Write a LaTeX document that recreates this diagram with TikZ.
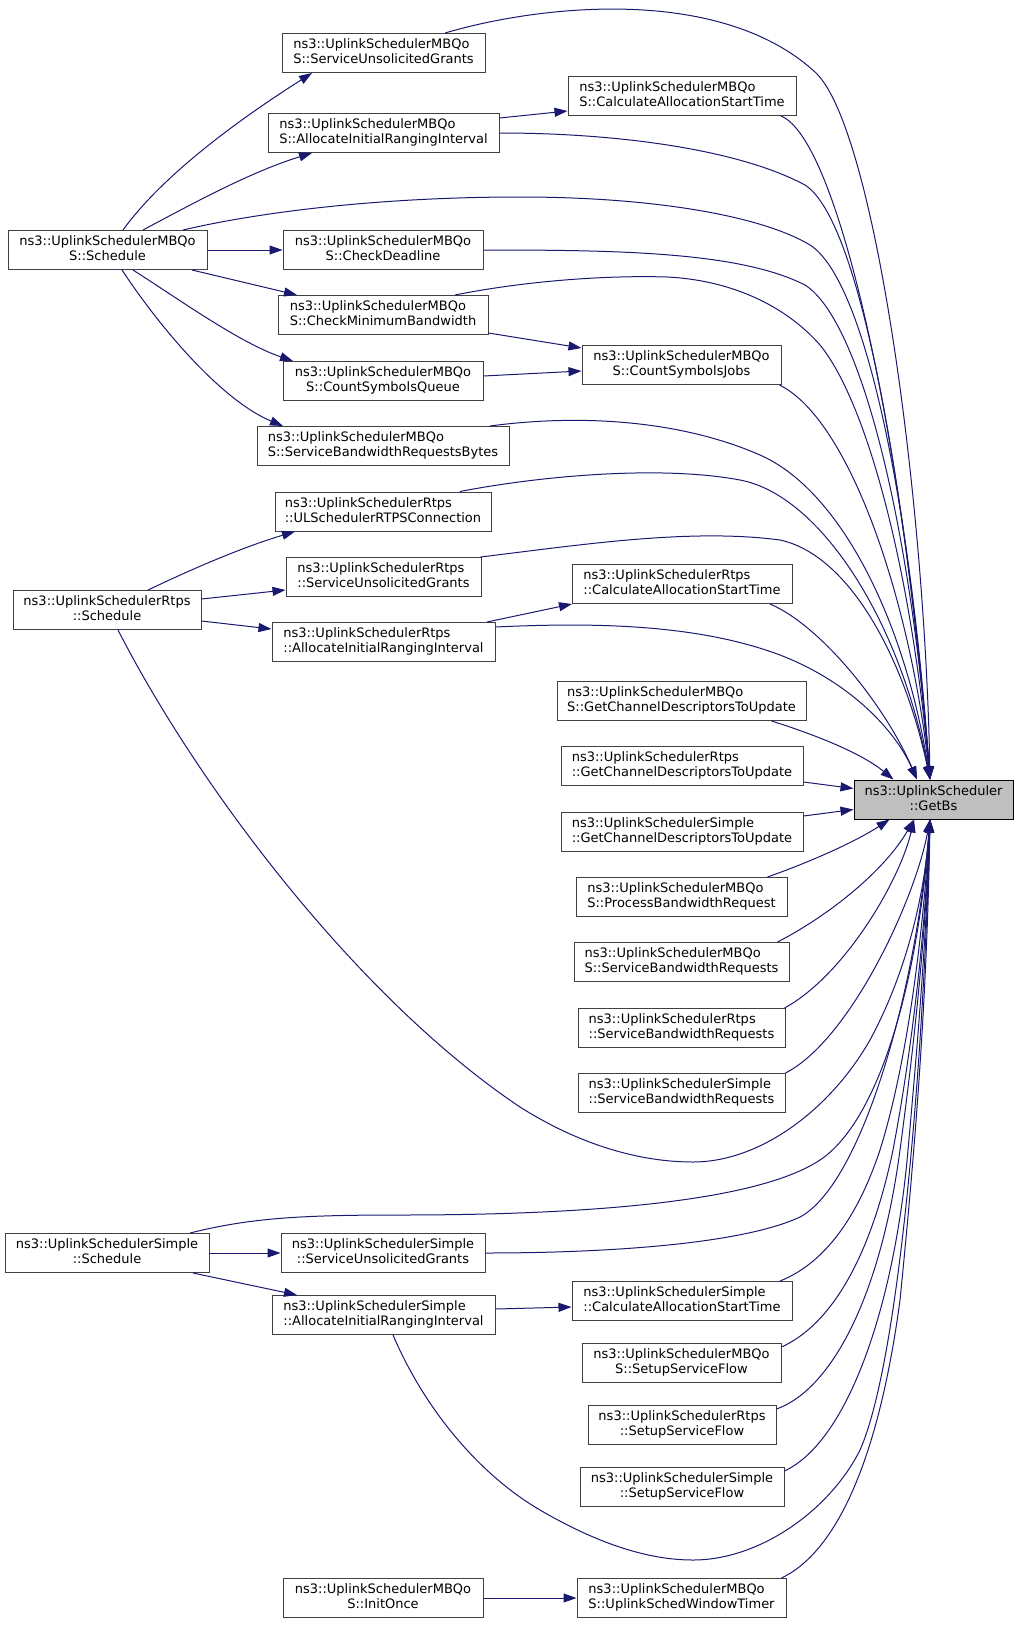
\documentclass[tikz,border=0pt]{standalone}
\usepackage{fontspec}
\setmainfont{DejaVu Sans}
\usetikzlibrary{arrows.meta}
\definecolor{edgeblue}{HTML}{191970}
\definecolor{boxgrey}{HTML}{404040}
\definecolor{rootgrey}{HTML}{BFBFBF}
% two-line doxygen label: first line left, second line centred
\newcommand{\fnlabel}[2]{\begin{tabular}{@{}l@{}}#1\\\multicolumn{1}{@{}c@{}}{#2}\end{tabular}}
\begin{document}
\begin{tikzpicture}[x=1pt,y=-1pt,
  fn/.style={draw=boxgrey,fill=white,line width=1pt,minimum height=39pt,inner sep=0pt,
    font=\fontsize{13}{15}\selectfont},
  root/.style={fn,draw=black,fill=rootgrey},
  call/.style={draw=edgeblue,line width=1pt,-{Triangle[length=13pt,width=9pt]}}]
\useasboundingbox (0,0) rectangle (1019,1651);
% callers, MBQoS
\node[fn,minimum width=203pt] (SUGm) at (383.5,53) {\fnlabel{ns3::UplinkSchedulerMBQo}{S::ServiceUnsolicitedGrants}};
\node[fn,minimum width=231pt] (AIRIm) at (383.5,133) {\fnlabel{ns3::UplinkSchedulerMBQo}{S::AllocateInitialRangingInterval}};
\node[fn,minimum width=228pt] (CASTm) at (682,96) {\fnlabel{ns3::UplinkSchedulerMBQo}{S::CalculateAllocationStartTime}};
\node[fn,minimum width=199pt] (SchedM) at (107.5,250) {\fnlabel{ns3::UplinkSchedulerMBQo}{S::Schedule}};
\node[fn,minimum width=200pt] (CD) at (383,250) {\fnlabel{ns3::UplinkSchedulerMBQo}{S::CheckDeadline}};
\node[fn,minimum width=210pt] (CMB) at (383,315) {\fnlabel{ns3::UplinkSchedulerMBQo}{S::CheckMinimumBandwidth}};
\node[fn,minimum width=200pt] (CSQ) at (383,381) {\fnlabel{ns3::UplinkSchedulerMBQo}{S::CountSymbolsQueue}};
\node[fn,minimum width=199pt] (CSJ) at (681.5,365) {\fnlabel{ns3::UplinkSchedulerMBQo}{S::CountSymbolsJobs}};
\node[fn,minimum width=252pt] (SBRB) at (383,446) {\fnlabel{ns3::UplinkSchedulerMBQo}{S::ServiceBandwidthRequestsBytes}};
% callers, Rtps
\node[fn,minimum width=216pt] (ULS) at (383,511.5) {\fnlabel{ns3::UplinkSchedulerRtps}{::ULSchedulerRTPSConnection}};
\node[fn,minimum width=195pt] (SUGr) at (383.5,577) {\fnlabel{ns3::UplinkSchedulerRtps}{::ServiceUnsolicitedGrants}};
\node[fn,minimum width=188pt] (SchedR) at (107,610) {\fnlabel{ns3::UplinkSchedulerRtps}{::Schedule}};
\node[fn,minimum width=223pt] (AIRIr) at (383.5,642) {\fnlabel{ns3::UplinkSchedulerRtps}{::AllocateInitialRangingInterval}};
\node[fn,minimum width=220pt] (CASTr) at (682,584) {\fnlabel{ns3::UplinkSchedulerRtps}{::CalculateAllocationStartTime}};
% direct callers
\node[fn,minimum width=249pt] (GCDm) at (681.5,701) {\fnlabel{ns3::UplinkSchedulerMBQo}{S::GetChannelDescriptorsToUpdate}};
\node[fn,minimum width=242pt] (GCDr) at (682,766) {\fnlabel{ns3::UplinkSchedulerRtps}{::GetChannelDescriptorsToUpdate}};
\node[root,minimum width=159pt] (GetBs) at (933.5,799.5) {\fnlabel{ns3::UplinkScheduler}{::GetBs}};
\node[fn,minimum width=242pt] (GCDs) at (682,832) {\fnlabel{ns3::UplinkSchedulerSimple}{::GetChannelDescriptorsToUpdate}};
\node[fn,minimum width=211pt] (PBR) at (681.5,897) {\fnlabel{ns3::UplinkSchedulerMBQo}{S::ProcessBandwidthRequest}};
\node[fn,minimum width=215pt] (SBRm) at (681.5,962) {\fnlabel{ns3::UplinkSchedulerMBQo}{S::ServiceBandwidthRequests}};
\node[fn,minimum width=207pt] (SBRr) at (681.5,1028) {\fnlabel{ns3::UplinkSchedulerRtps}{::ServiceBandwidthRequests}};
\node[fn,minimum width=207pt] (SBRs) at (681.5,1093) {\fnlabel{ns3::UplinkSchedulerSimple}{::ServiceBandwidthRequests}};
% callers, Simple
\node[fn,minimum width=204pt] (SchedS) at (107,1253) {\fnlabel{ns3::UplinkSchedulerSimple}{::Schedule}};
\node[fn,minimum width=204pt] (SUGs) at (383,1253) {\fnlabel{ns3::UplinkSchedulerSimple}{::ServiceUnsolicitedGrants}};
\node[fn,minimum width=223pt] (AIRIs) at (383.5,1315) {\fnlabel{ns3::UplinkSchedulerSimple}{::AllocateInitialRangingInterval}};
\node[fn,minimum width=220pt] (CASTs) at (682,1301) {\fnlabel{ns3::UplinkSchedulerSimple}{::CalculateAllocationStartTime}};
\node[fn,minimum width=199pt] (SSFm) at (681.5,1363) {\fnlabel{ns3::UplinkSchedulerMBQo}{S::SetupServiceFlow}};
\node[fn,minimum width=188pt] (SSFr) at (682,1425) {\fnlabel{ns3::UplinkSchedulerRtps}{::SetupServiceFlow}};
\node[fn,minimum width=204pt] (SSFs) at (682,1487) {\fnlabel{ns3::UplinkSchedulerSimple}{::SetupServiceFlow}};
\node[fn,minimum width=200pt] (InitOnce) at (383,1598) {\fnlabel{ns3::UplinkSchedulerMBQo}{S::InitOnce}};
\node[fn,minimum width=209pt] (Timer) at (681.5,1598) {\fnlabel{ns3::UplinkSchedulerMBQo}{S::UplinkSchedWindowTimer}};
% MBQoS schedule fan-out
\draw[call] ([xshift=15.5pt]SchedM.north) .. controls (170,165) and (265,103) .. ([xshift=-71.5pt]SUGm.south);
\draw[call] ([xshift=35.5pt]SchedM.north) .. controls (190,205) and (250,172) .. ([xshift=-71.5pt]AIRIm.south);
\draw[call] (SchedM.east) -- (CD.west);
\draw[call] ([xshift=84.5pt]SchedM.south) -- ([xshift=-86pt]CMB.north);
\draw[call] ([xshift=25.5pt]SchedM.south) .. controls (180,300) and (240,343) .. ([xshift=-90pt]CSQ.north);
\draw[call] ([xshift=14.5pt]SchedM.south) .. controls (165,335) and (225,402) .. ([xshift=-100pt]SBRB.north);
\draw[call] ([yshift=15pt]AIRIm.east) -- ([yshift=-15pt]CASTm.west);
\draw[call] ([yshift=-18pt]CMB.east) -- ([yshift=17pt]CSJ.west);
\draw[call] ([yshift=5pt]CSQ.east) -- ([yshift=-6pt]CSJ.west);
% Rtps schedule fan-out
\draw[call] ([xshift=41pt]SchedR.north) .. controls (190,570) and (240,548) .. ([xshift=-88pt]ULS.south);
\draw[call] ([yshift=11pt]SchedR.east) -- ([yshift=-13pt]SUGr.west);
\draw[call] ([yshift=-11pt]SchedR.east) -- ([yshift=13pt]AIRIr.west);
\draw[call] ([xshift=103.5pt]AIRIr.north) -- ([xshift=-110pt]CASTr.south);
% Simple schedule fan-out
\draw[call] (SchedS.east) -- (SUGs.west);
\draw[call] ([xshift=86pt]SchedS.south) -- ([xshift=-86.5pt]AIRIs.north);
\draw[call] ([yshift=6pt]AIRIs.east) -- ([yshift=-6pt]CASTs.west);
\draw[call] (InitOnce.east) -- (Timer.west);
% into GetBs from above
\draw[call] ([xshift=61.5pt]SUGm.north) .. controls (540,5) and (720,-15) .. (815,72) .. controls (875,127) and (925,500) .. ([xshift=-3.5pt]GetBs.north);
\draw[call] ([xshift=99pt]CASTm.south) .. controls (840,140) and (905,450) .. ([xshift=-3.5pt]GetBs.north);
\draw[call] (AIRIm.east) .. controls (620,133) and (740,150) .. (805,185) .. controls (860,220) and (905,480) .. ([xshift=-3.5pt]GetBs.north);
\draw[call] ([xshift=75.5pt]SchedM.north) .. controls (260,212) and (380,197) .. (520,197) .. controls (650,197) and (760,215) .. (810,245) .. controls (865,280) and (910,500) .. ([xshift=-3.5pt]GetBs.north);
\draw[call] (CD.east) .. controls (620,250) and (740,252) .. (805,285) .. controls (860,320) and (910,520) .. ([xshift=-3.5pt]GetBs.north);
\draw[call] ([xshift=72pt]CMB.north) .. controls (520,282) and (600,275) .. (667,277) .. controls (730,280) and (785,305) .. (820,345) .. controls (865,400) and (910,560) .. ([xshift=-3.5pt]GetBs.north);
\draw[call] ([xshift=98pt]CSJ.south) .. controls (850,420) and (910,600) .. ([xshift=-3.5pt]GetBs.north);
\draw[call] ([xshift=107pt]SBRB.north) .. controls (580,414) and (680,420) .. (760,455) .. controls (840,490) and (905,620) .. ([xshift=-3.5pt]GetBs.north);
\draw[call] ([xshift=77pt]ULS.north) .. controls (540,476) and (660,465) .. (740,480) .. controls (820,495) and (900,620) .. ([xshift=-3.5pt]GetBs.north);
\draw[call] ([xshift=97pt]SUGr.north) .. controls (580,545) and (690,528) .. (780,540) .. controls (850,555) and (905,660) .. ([xshift=-3.5pt]GetBs.north);
\draw[call] ([yshift=15pt]AIRIr.east) .. controls (600,622) and (700,625) .. (780,655) .. controls (850,682) and (895,730) .. ([xshift=-16.5pt]GetBs.north);
\draw[call] ([xshift=88pt]CASTr.south) .. controls (820,625) and (885,705) .. ([xshift=-16.5pt]GetBs.north);
\draw[call] ([xshift=90pt]GCDm.south) .. controls (810,733) and (860,752) .. ([xshift=-40pt]GetBs.north);
% into GetBs from the left
\draw[call] ([yshift=-16pt]GCDr.east) -- ([yshift=11pt]GetBs.west);
\draw[call] ([yshift=16pt]GCDs.east) -- ([yshift=-10pt]GetBs.west);
% into GetBs from below
\draw[call] ([xshift=86pt]PBR.north) .. controls (810,862) and (855,842) .. ([xshift=-44pt]GetBs.south);
\draw[call] ([xshift=96pt]SBRm.north) .. controls (830,915) and (885,870) .. ([xshift=-19.5pt]GetBs.south);
\draw[call] ([xshift=103pt]SBRr.north) .. controls (845,975) and (900,880) .. ([xshift=-19.5pt]GetBs.south);
\draw[call] ([xshift=104pt]SBRs.north) .. controls (850,1040) and (915,900) .. ([xshift=-3.5pt]GetBs.south);
\draw[call] ([xshift=11pt]SchedR.south) .. controls (200,790) and (360,1000) .. (520,1107) .. controls (580,1145) and (640,1162) .. (693,1162) .. controls (760,1162) and (830,1110) .. (870,1040) .. controls (905,975) and (924,900) .. ([xshift=-3.5pt]GetBs.south);
\draw[call] ([xshift=83pt]SchedS.north) .. controls (250,1218) and (300,1215) .. (400,1215) .. controls (600,1215) and (760,1200) .. (820,1160) .. controls (880,1120) and (918,980) .. ([xshift=-3.5pt]GetBs.south);
\draw[call] (SUGs.east) .. controls (600,1253) and (740,1245) .. (800,1217) .. controls (860,1185) and (915,1000) .. ([xshift=-3.5pt]GetBs.south);
\draw[call] ([xshift=98pt]CASTs.north) .. controls (820,1265) and (855,1225) .. (880,1150) .. controls (905,1070) and (922,950) .. ([xshift=-3.5pt]GetBs.south);
\draw[call] ([yshift=16pt]SSFm.east) .. controls (830,1325) and (870,1260) .. (893,1150) .. controls (910,1060) and (924,950) .. ([xshift=-3.5pt]GetBs.south);
\draw[call] ([yshift=16pt]SSFr.east) .. controls (830,1390) and (880,1300) .. (900,1150) .. controls (912,1060) and (925,950) .. ([xshift=-3.5pt]GetBs.south);
\draw[call] ([yshift=16pt]SSFs.east) .. controls (850,1440) and (895,1300) .. (908,1150) .. controls (916,1060) and (926,950) .. ([xshift=-3.5pt]GetBs.south);
\draw[call] ([xshift=9.5pt]AIRIs.south) .. controls (425,1410) and (480,1475) .. (540,1510) .. controls (600,1545) and (650,1560) .. (693,1560) .. controls (760,1560) and (830,1510) .. (860,1450) .. controls (900,1360) and (924,1050) .. ([xshift=-3.5pt]GetBs.south);
\draw[call] ([xshift=100pt]Timer.north) .. controls (840,1550) and (880,1450) .. (900,1300) .. controls (915,1150) and (927,1000) .. ([xshift=-3.5pt]GetBs.south);
\end{tikzpicture}
\end{document}
